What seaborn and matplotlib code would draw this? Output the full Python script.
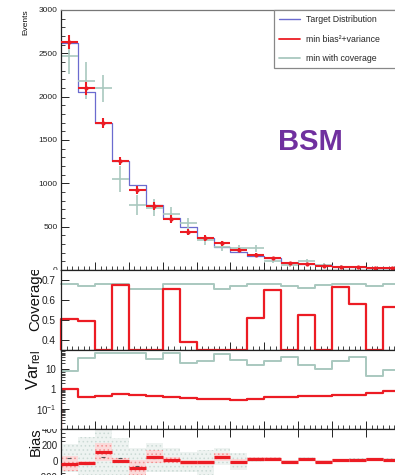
import numpy as np
import matplotlib
matplotlib.use("Agg")
import matplotlib.pyplot as plt
import seaborn as sns
from matplotlib.ticker import MultipleLocator, FixedLocator, FixedFormatter, LogLocator, NullFormatter, NullLocator
from matplotlib.transforms import Bbox, TransformedBbox
from matplotlib.lines import Line2D
from matplotlib.patches import Rectangle

# ---------------- data (bin index units, 20 visible bins) ----------------
bin_edges = list(range(0, 21))
target = [2620, 2058, 1700, 1261, 981, 750, 596, 500, 365, 269,
          204, 165, 135, 85, 69, 54, 38, 31, 27, 23]
red_vals = [2635, 2096, 1692, 1261, 923, 738, 588, 438, 365, 308,
            231, 173, 135, 77, 69, 46, 38, 31, 27, 23]
red_err = [80, 78, 58, 48, 44, 45, 42, 38, 34, 30,
           26, 22, 20, 16, 14, 12, 10, 9, 8, 7]
green_vals = [2473, 2185, 2096, 1046, 746, 719, 642, 538, 346, 262,
              250, 250, 108, 58, 104, 58, 38, 31, 27, 23]
green_err = [210, 213, 155, 150, 115, 100, 80, 65, 55, 45,
             40, 38, 30, 25, 25, 20, 15, 12, 10, 9]

cov_red = [0.505, 0.495, 0.0, 0.676, 0.0, 0.0, 0.656, 0.389, 0.0, 0.0,
           0.0, 0.511, 0.651, 0.0, 0.526, 0.0, 0.664, 0.581, 0.0, 0.564]
cov_green = [0.678, 0.672, 0.678, 0.678, 0.656, 0.656, 0.678, 0.678, 0.678, 0.656,
             0.668, 0.678, 0.678, 0.668, 0.661, 0.673, 0.678, 0.678, 0.668, 0.678]

var_red = [1.0, 0.39, 0.44, 0.55, 0.51, 0.44, 0.39, 0.35, 0.32, 0.33,
           0.30, 0.32, 0.42, 0.39, 0.44, 0.44, 0.53, 0.51, 0.67, 0.78]
var_green = [8.4, 36, 65, 65, 65, 32, 65, 22, 27, 62,
             30, 17, 27, 42, 17, 10, 27, 42, 4.4, 9.4]

bias_red = [-35, -20, 110, 5, -85, 55, 12, -17, -17, 55,
            -8, 20, 20, -8, 20, -8, 8, 12, 20, 12]
bias_red_err = [95, 25, 115, 35, 100, 80, 35, 35, 35, 50,
                30, 25, 25, 20, 20, 20, 18, 15, 15, 15]
bias_green = [35, -35, 50, 35, -60, 40, 10, -10, -17, 55,
              -8, 20, 20, -8, 20, -8, 8, 12, 20, 12]
bias_green_err = [177, 339, 338, 249, 219, 181, 149, 126, 155, 111,
                  104, 34, 25, 25, 25, 22, 22, 20, 20, 20]

legend_labels = ["Target Distribution", "min bias\u00b2+variance", "min with coverage"]
top_yticks = [0, 500, 1000, 1500, 2000, 2500, 3000]
cov_yticks = [0.4, 0.5, 0.6, 0.7]
var_yticks = [0.1, 1, 10]
var_ylabels = ["$10^{-1}$", "1", "10"]
bias_yticks = [-200, 0, 200, 400]

# ---------------- style ----------------
sns.set_theme(style="ticks")
plt.rcParams["font.family"] = ["Liberation Sans", "DejaVu Sans"]
plt.rcParams["mathtext.fontset"] = "custom"
plt.rcParams["mathtext.rm"] = "Liberation Sans"
plt.rcParams["mathtext.it"] = "Liberation Sans:italic"
plt.rcParams["mathtext.bf"] = "Liberation Sans:bold"
plt.rcParams["hatch.linewidth"] = 0.6

c_blue = "#6b6bcf"
c_red = "#ec1c24"
c_green = "#a9c8bf"
c_frame = "#222222"

W, H = 395, 475
fig = plt.figure(figsize=(W / 100, H / 100), dpi=100)
fig.patch.set_facecolor("white")

NB_VIEW = 24
BW = 16.95
X0 = 61
X1 = X0 + NB_VIEW * BW


def px_rect(x0, y0, x1, y1):
    return [x0 / W, 1 - y1 / H, (x1 - x0) / W, (y1 - y0) / H]


def pad_bbox(y0, y1):
    return TransformedBbox(Bbox.from_extents(0, 1 - y1 / H, 1, 1 - y0 / H), fig.transFigure)


ax_top = fig.add_axes(px_rect(X0, 10, X1, 270))
ax_cov = fig.add_axes(px_rect(X0, 270, X1, 349.5))
ax_var = fig.add_axes(px_rect(X0, 349.5, X1, 429))
ax_bias = fig.add_axes(px_rect(X0, 429, X1, 493))

edges = np.asarray(bin_edges, dtype=float)
centers = edges[:-1] + 0.5
nb = len(centers)


def step_hist(ax, weights, color, lw):
    sns.histplot(x=list(centers), weights=list(weights), bins=list(edges), element="step",
                 fill=False, color=color, linewidth=lw, ax=ax)
    return ax.lines[-1]


# ---------------- top panel ----------------
step_hist(ax_top, target, c_blue, 0.9)
ax_top.errorbar(centers, green_vals, xerr=0.5, yerr=green_err, fmt="none",
                ecolor=c_green, elinewidth=1.2, capsize=0, zorder=2)
ax_top.errorbar(centers, red_vals, xerr=0.5, yerr=red_err, fmt="o", ms=2.0,
                color=c_red, ecolor=c_red, elinewidth=1.5, capsize=0, zorder=4)
ax_top.set_ylim(0, 3000)
ax_top.yaxis.set_major_locator(FixedLocator(top_yticks))
ax_top.yaxis.set_minor_locator(MultipleLocator(100))
ax_top.set_ylabel("Events", fontsize=6, ha="right", va="bottom")
ax_top.yaxis.set_label_coords(29 / W, 1 - 9 / H, transform=fig.transFigure)

# ---------------- coverage panel ----------------
clo, chi = 0.35, 0.75
cg = np.clip(cov_green, clo, chi)
cr = np.clip(cov_red, clo, chi)
l1 = step_hist(ax_cov, cg, c_green, 1.4)
l2 = step_hist(ax_cov, cr, c_red, 1.6)
l1.set_clip_on(False)
l2.set_clip_on(False)
ax_cov.vlines(edges[0], clo, cr[0], color=c_red, lw=1.6, clip_on=False)
ax_cov.set_ylim(clo, chi)
ax_cov.yaxis.set_major_locator(FixedLocator(cov_yticks))
ax_cov.yaxis.set_minor_locator(NullLocator())
ax_cov.set_ylabel("Coverage", fontsize=10.8, ha="right", va="bottom")
ax_cov.yaxis.set_label_coords(42 / W, 1 - 266 / H, transform=fig.transFigure)

# ---------------- relative variance panel ----------------
step_hist(ax_var, var_green, c_green, 1.4)
step_hist(ax_var, var_red, c_red, 1.6)
ax_var.set_yscale("log")
vlo, vhi = 0.01, 100
ax_var.vlines(edges[0], vlo, var_red[0], color=c_red, lw=1.6)
ax_var.set_ylim(vlo, vhi)
ax_var.yaxis.set_major_locator(FixedLocator([0.01, 0.1, 1, 10, 100]))
ax_var.yaxis.set_major_formatter(FixedFormatter(["", var_ylabels[0], var_ylabels[1], var_ylabels[2], ""]))
ax_var.yaxis.set_minor_locator(LogLocator(base=10, subs=np.arange(2, 10), numticks=20))
ax_var.yaxis.set_minor_formatter(NullFormatter())
ax_var.set_ylabel(r"Var$_{\mathrm{rel}}$", fontsize=12, ha="right", va="bottom")
ax_var.yaxis.set_label_coords(43 / W, 1 - 350 / H, transform=fig.transFigure)

# ---------------- bias panel ----------------
bg = np.asarray(bias_green, float)
bge = np.asarray(bias_green_err, float)
br = np.asarray(bias_red, float)
bre = np.asarray(bias_red_err, float)
ax_bias.bar(centers, 2 * bge, bottom=bg - bge, width=1.0, color="#eef3f1",
            edgecolor="#cbdad5", hatch="....", linewidth=0, zorder=1)
ax_bias.bar(centers, 2 * bre, bottom=br - bre, width=1.0, color="#fbdada",
            edgecolor="#f29090", hatch="....", linewidth=0, zorder=2)
ax_bias.plot(centers, bg, ls="none", marker="_", ms=3, mew=0.8, color="#555555", zorder=3)
ax_bias.hlines(br, edges[:-1], edges[1:], color=c_red, lw=2.3, zorder=4)
ax_bias.set_ylim(-400, 400)
ax_bias.yaxis.set_major_locator(FixedLocator(bias_yticks))
ax_bias.yaxis.set_minor_locator(MultipleLocator(50))
ax_bias.set_ylabel("Bias", fontsize=10.5, ha="right", va="bottom")
ax_bias.yaxis.set_label_coords(43 / W, 1 - 427 / H, transform=fig.transFigure)

# ---------------- common axis styling ----------------
for ax in (ax_top, ax_cov, ax_var, ax_bias):
    ax.set_xlim(edges[0], edges[0] + NB_VIEW)
    ax.set_xlabel("")
    ax.set_facecolor("white")
    ax.xaxis.set_major_locator(MultipleLocator(2))
    ax.xaxis.set_minor_locator(MultipleLocator(1 / 3))
    ax.tick_params(axis="x", which="both", direction="in", labelbottom=False,
                   bottom=True, top=False, colors=c_frame)
    ax.tick_params(axis="x", which="major", length=5.5, width=0.7)
    ax.tick_params(axis="x", which="minor", length=2.8, width=0.6)
    ax.tick_params(axis="y", which="both", direction="in", left=True, right=False,
                   colors=c_frame)
    ax.tick_params(axis="y", which="major", length=5.5, width=0.7, pad=2.5)
    ax.tick_params(axis="y", which="minor", length=2.8, width=0.6)
    for sp in ax.spines.values():
        sp.set_color(c_frame)
        sp.set_linewidth(0.9)
    ax.yaxis.label.set_color("#111111")

ax_top.tick_params(axis="y", labelsize=6)
ax_top.spines["top"].set_color("#777777")
ax_cov.tick_params(axis="y", labelsize=7.3, pad=4)
ax_var.tick_params(axis="y", labelsize=7, pad=3.5)
ax_bias.tick_params(axis="y", labelsize=7, pad=2.5)
ax_bias.tick_params(axis="x", which="major", top=True)
ax_bias.tick_params(axis="x", which="minor", top=False)

# ---------------- legend (box extends past the right edge) ----------------
fig.patches.append(Rectangle((274 / W, 1 - 68 / H), 200 / W, 58 / H, transform=fig.transFigure,
                             facecolor="white", edgecolor="#888888", linewidth=0.9, zorder=5))
handles = [Line2D([], [], color=c_blue, lw=1.0),
           Line2D([], [], color=c_red, lw=1.3),
           Line2D([], [], color=c_green, lw=1.3)]
leg = fig.legend(handles, legend_labels, loc="upper left",
                 bbox_to_anchor=(274 / W, 1 - 10 / H), bbox_transform=fig.transFigure,
                 fontsize=6.3, frameon=False, borderpad=0.6, handlelength=2.4,
                 handletextpad=0.7, labelspacing=1.2, borderaxespad=0)
leg.set_zorder(6)

fig.text(278 / W, 1 - 150 / H, "BSM", color="#70309f", fontsize=21,
         fontweight="bold", ha="left", va="baseline")

# ---------------- clip texts to their ROOT-like pads ----------------
fig.canvas.draw()
pads = {ax_top: (0, 270), ax_cov: (270, 349.5), ax_var: (349.5, 429), ax_bias: (429, 475)}
for ax, (y0, y1) in pads.items():
    bb = pad_bbox(y0, y1)
    for t in ax.get_yticklabels():
        t.set_clip_box(bb)
        t.set_clip_on(True)
    ax.yaxis.label.set_clip_box(bb)
    ax.yaxis.label.set_clip_on(True)

fig.savefig("out.png", dpi=100)
